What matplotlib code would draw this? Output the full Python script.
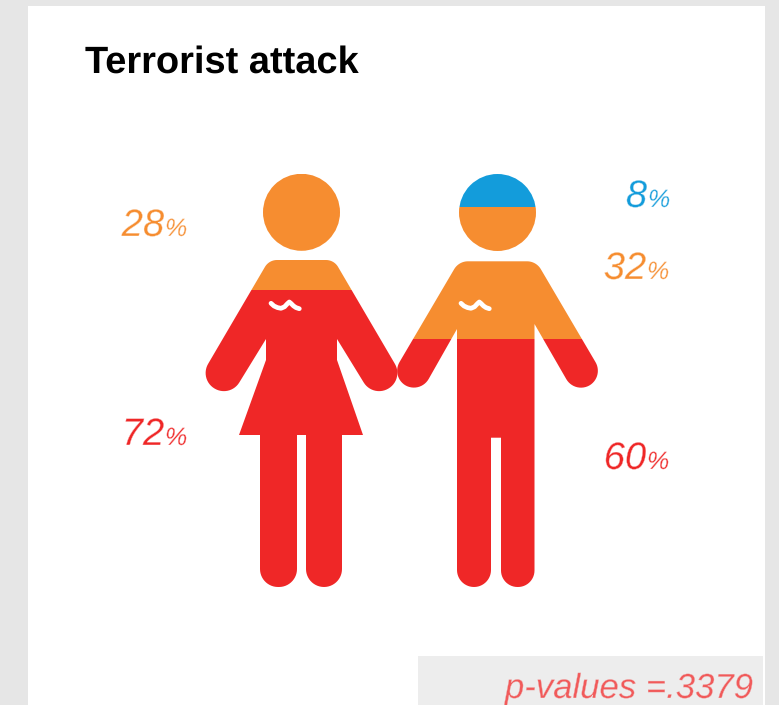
import numpy as np
import matplotlib
matplotlib.use("Agg")
import matplotlib.pyplot as plt
import matplotlib.patheffects as pe
from matplotlib.patches import Rectangle, Circle
from matplotlib.path import Path
from matplotlib.transforms import Affine2D

plt.rcParams["text.hinting"] = "no_hinting"
plt.rcParams["text.hinting_factor"] = 1

# Share of respondents per response level, bottom to top
women_values = [72, 28]
men_values = [60, 32, 8]
women_colors = ["#EF2727", "#F68D30"]
men_colors = ["#EF2727", "#F68D30", "#139CDB"]
title_text = "Terrorist attack"
p_value_text = "p-values =.3379"

W, H = 779, 705
FIG_TOP, FIG_BOTTOM = 174.0, 587.0   # vertical extent of both figures


def rounded_outline(points):
    """Polyline through (x, y, radius) corners, with circular arcs at the corners."""
    out = []
    n = len(points)
    for i, (x, y, r) in enumerate(points):
        p = np.array([x, y], float)
        if r <= 0:
            out.append(p)
            continue
        a = np.array(points[i - 1][:2], float) - p
        b = np.array(points[(i + 1) % n][:2], float) - p
        u, v = a / np.linalg.norm(a), b / np.linalg.norm(b)
        phi = np.arccos(np.clip(u @ v, -1, 1)) / 2
        t = r / np.tan(phi)
        bis = (u + v) / np.linalg.norm(u + v)
        c = p + bis * r / np.sin(phi)
        s, e = p + u * t - c, p + v * t - c
        a0 = np.arctan2(s[1], s[0])
        a1 = np.arctan2(e[1], e[0])
        d = (a1 - a0 + np.pi) % (2 * np.pi) - np.pi
        for k in np.linspace(0, 1, 14):
            ang = a0 + d * k
            out.append(c + r * np.array([np.cos(ang), np.sin(ang)]))
    return np.array(out)


def silhouette(outline_pts, head_xy, head_r):
    body = rounded_outline(outline_pts)
    head = Path.circle(head_xy, head_r)
    body_path = Path(np.vstack([body, body[0]]), closed=True)
    return Path.make_compound_path(body_path, head)


woman_cx = 301.5
def mw(x):
    return 2 * woman_cx - x

woman_outline = [
    (269, 260, 14), (mw(269), 260, 14),
    (mw(199), 379.4, 18), (mw(230), 397.6, 18),
    (337, 339, 0), (337, 360, 0), (363, 435, 0), (342, 435, 0),
    (342, 587, 18), (306, 587, 18), (306, 435, 0), (297, 435, 0),
    (297, 587, 18), (260, 587, 18), (260, 435, 0), (239, 435, 0),
    (266, 360, 0), (266, 339, 0),
    (230, 397.6, 18), (199, 379.4, 18),
]

man_outline = [
    (458.8, 261.3, 16), (536.2, 261.3, 16),
    (604.2, 376.9, 17), (574.8, 393.9, 17),
    (534.5, 324, 0), (534.5, 587, 16.5), (501, 587, 16.5),
    (501, 437.7, 0), (491, 437.7, 0),
    (491, 587, 17), (457, 587, 17),
    (457, 329, 0),
    (420.2, 393.9, 17), (390.8, 376.9, 17),
]

fig = plt.figure(figsize=(W / 100, H / 100), dpi=100, facecolor="#E6E6E6")

# Pixel-space layer for the panel and the grey box
ax = fig.add_axes([0, 0, 1, 1], zorder=0)
ax.set_xlim(0, W)
ax.set_ylim(H, 0)
ax.axis("off")
ax.add_patch(Rectangle((28, 6), 737, H - 6, fc="white", ec="none"))
ax.add_patch(Rectangle((418, 656), 345, H - 656, fc="#EDEDED", ec="none"))

# Percent-scale layer: stacked bars clipped to the two silhouettes
bar_ax = fig.add_axes([0, (H - FIG_BOTTOM) / H, 1, (FIG_BOTTOM - FIG_TOP) / H], zorder=1)
bar_ax.set_xlim(0, W)
bar_ax.set_ylim(0, 100)
bar_ax.axis("off")

# Pixel-space layer for ribbons and text, above the bars
top_ax = fig.add_axes([0, 0, 1, 1], zorder=2)
top_ax.set_xlim(0, W)
top_ax.set_ylim(H, 0)
top_ax.axis("off")

to_display = Affine2D().scale(1, -1).translate(0, H)


def stacked_figure(center, values, colors, path):
    bottom = 0
    for value, color in zip(values, colors):
        bars = bar_ax.bar(center, value, bottom=bottom, width=230, color=color,
                          linewidth=0)
        for b in bars:
            b.set_clip_path(path, to_display)
        bottom += value


stacked_figure(woman_cx, women_values, women_colors,
               silhouette(woman_outline, (301.5, 212.3), 38.5))
stacked_figure(497.5, men_values, men_colors,
               silhouette(man_outline, (497.5, 212.5), 38.5))

# Small white ribbon on each chest
rib_x = np.array([271, 274, 277.5, 281, 284.5, 287.5, 289.3, 291, 293.5, 296, 299.3])
rib_y = np.array([303.3, 306, 307.6, 308.3, 306.8, 303.6, 302, 303.4, 305.9, 307.6, 308.7])
for dx in (0, 190):
    top_ax.plot(rib_x + dx, rib_y, color="white", lw=3.4, solid_capstyle="round",
                solid_joinstyle="round")
    top_ax.add_patch(Circle((271 + dx, 302.5), 1.0, fc="#F7B0A8", ec="none"))

# Text: a fine stroke of the background colour over the glyphs lightens the italics
sans = "Liberation Sans"


def thinned(background):
    return [pe.Normal(), pe.Stroke(linewidth=0.3, foreground=background)]


top_ax.text(85, 73, title_text, family=sans, fontweight="bold", fontsize=27,
            color="black", ha="left", va="baseline")
top_ax.text(755, 698, p_value_text, family=sans, style="italic", fontsize=25,
            color="#F15A5A", ha="right", va="baseline",
            path_effects=thinned("#EDEDED"))


def pct_label(x, y, value, color):
    top_ax.text(x, y, str(value), family=sans, style="italic", fontsize=27.5,
                color=color, ha="right", va="baseline", path_effects=thinned("white"))
    top_ax.text(x + 1, y, "%", family=sans, style="italic", fontsize=18,
                color=color, ha="left", va="baseline", path_effects=thinned("white"))


pct_label(164, 236, women_values[1], women_colors[1])
pct_label(164, 445, women_values[0], women_colors[0])
pct_label(647, 207, men_values[2], men_colors[2])
pct_label(646, 279, men_values[1], men_colors[1])
pct_label(646, 469, men_values[0], men_colors[0])

fig.savefig("out.png", dpi=100, facecolor=fig.get_facecolor())
